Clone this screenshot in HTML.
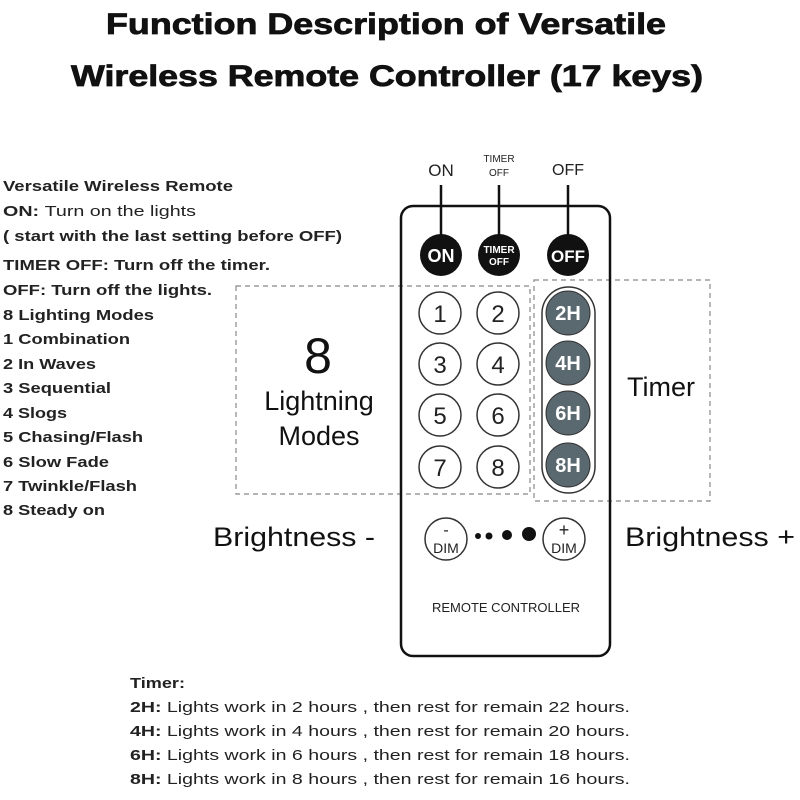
<!DOCTYPE html>
<html><head><meta charset="utf-8"><style>
html,body{margin:0;padding:0;background:#fff;}
svg{display:block;font-family:"Liberation Sans",Arial,sans-serif;}
</style></head><body>
<svg width="800" height="800" viewBox="0 0 800 800" xmlns="http://www.w3.org/2000/svg">
<rect width="800" height="800" fill="#fff"/>
<g font-weight="bold" font-size="30" fill="#111" stroke="#111" stroke-width="0.8" text-anchor="middle">
<text x="386" y="34" textLength="560" lengthAdjust="spacingAndGlyphs">Function Description of Versatile</text>
<text x="387" y="86" textLength="632" lengthAdjust="spacingAndGlyphs">Wireless Remote Controller (17 keys)</text>
</g>
<g font-size="15" font-weight="bold" fill="#222" lengthAdjust="spacingAndGlyphs">
<text x="3" y="191" textLength="230" lengthAdjust="spacingAndGlyphs">Versatile Wireless Remote</text>
<text x="3" y="216" textLength="193" lengthAdjust="spacingAndGlyphs">ON: <tspan font-weight="normal">Turn on the lights</tspan></text>
<text x="3" y="241" textLength="339" lengthAdjust="spacingAndGlyphs">( start with the last setting before OFF)</text>
<text x="3" y="270" textLength="267" lengthAdjust="spacingAndGlyphs">TIMER OFF: Turn off the timer.</text>
<text x="3" y="295" textLength="209" lengthAdjust="spacingAndGlyphs">OFF: Turn off the lights.</text>
<text x="3" y="320" textLength="151" lengthAdjust="spacingAndGlyphs">8 Lighting Modes</text>
<text x="3" y="344" textLength="127" lengthAdjust="spacingAndGlyphs">1 Combination</text>
<text x="3" y="369" textLength="93" lengthAdjust="spacingAndGlyphs">2 In Waves</text>
<text x="3" y="393" textLength="108" lengthAdjust="spacingAndGlyphs">3 Sequential</text>
<text x="3" y="418" textLength="64" lengthAdjust="spacingAndGlyphs">4 Slogs</text>
<text x="3" y="442" textLength="140" lengthAdjust="spacingAndGlyphs">5 Chasing/Flash</text>
<text x="3" y="467" textLength="106" lengthAdjust="spacingAndGlyphs">6 Slow Fade</text>
<text x="3" y="491" textLength="134" lengthAdjust="spacingAndGlyphs">7 Twinkle/Flash</text>
<text x="3" y="515" textLength="102" lengthAdjust="spacingAndGlyphs">8 Steady on</text>
</g>
<!-- dashed boxes -->
<rect x="236" y="286" width="294" height="208" fill="none" stroke="#888" stroke-width="1.2" stroke-dasharray="5,4"/>
<rect x="534" y="280" width="176" height="221" fill="none" stroke="#888" stroke-width="1.2" stroke-dasharray="5,4"/>
<g fill="#111" text-anchor="middle" font-size="27">
<text x="318" y="373" font-size="50">8</text>
<text x="319" y="410">Lightning</text>
<text x="319" y="445">Modes</text>
<text x="661" y="396">Timer</text>
<text x="294" y="546" textLength="162" lengthAdjust="spacingAndGlyphs">Brightness -</text>
<text x="710" y="546" textLength="170" lengthAdjust="spacingAndGlyphs">Brightness +</text>
</g>
<!-- remote -->
<rect x="401" y="206" width="209" height="450" rx="12" fill="none" stroke="#111" stroke-width="2.5"/>
<g stroke="#111" stroke-width="2.5">
<line x1="441" y1="185" x2="441" y2="240"/>
<line x1="499" y1="185" x2="499" y2="240"/>
<line x1="568" y1="185" x2="568" y2="240"/>
</g>
<g fill="#222" text-anchor="middle">
<text x="441" y="176" font-size="17">ON</text>
<text x="499" y="162" font-size="10">TIMER</text>
<text x="499" y="176" font-size="10">OFF</text>
<text x="568" y="175" font-size="16">OFF</text>
</g>
<g fill="#111"><circle cx="441" cy="255" r="21"/><circle cx="499" cy="255" r="21"/><circle cx="568" cy="255" r="21"/></g>
<g fill="#fff" font-weight="bold" text-anchor="middle">
<text x="441" y="262" font-size="18">ON</text>
<text x="499" y="253" font-size="10">TIMER</text>
<text x="499" y="265" font-size="10">OFF</text>
<text x="568" y="262" font-size="17">OFF</text>
</g>
<!-- number buttons -->
<g fill="#fff" stroke="#333" stroke-width="1.5">
<circle cx="440" cy="313" r="21"/><circle cx="498" cy="313" r="21"/>
<circle cx="440" cy="364" r="21"/><circle cx="498" cy="364" r="21"/>
<circle cx="440" cy="415" r="21"/><circle cx="498" cy="415" r="21"/>
<circle cx="440" cy="467" r="21"/><circle cx="498" cy="467" r="21"/>
</g>
<g fill="#222" font-size="24" text-anchor="middle">
<text x="440" y="322">1</text><text x="498" y="322">2</text>
<text x="440" y="373">3</text><text x="498" y="373">4</text>
<text x="440" y="424">5</text><text x="498" y="424">6</text>
<text x="440" y="476">7</text><text x="498" y="476">8</text>
</g>
<!-- timer pill -->
<rect x="542" y="287" width="53" height="206" rx="26.5" fill="#fff" stroke="#333" stroke-width="1.5"/>
<g fill="#5a6870" stroke="#333" stroke-width="1"><circle cx="568" cy="313" r="22"/><circle cx="568" cy="363" r="22"/><circle cx="568" cy="413" r="22"/><circle cx="568" cy="465" r="22"/></g>
<g fill="#fff" font-size="20" font-weight="bold" text-anchor="middle">
<text x="568" y="320">2H</text><text x="568" y="370">4H</text><text x="568" y="420">6H</text><text x="568" y="472">8H</text>
</g>
<!-- dim -->
<circle cx="446" cy="539" r="21" fill="#fff" stroke="#333" stroke-width="1.5"/>
<circle cx="564" cy="539" r="21" fill="#fff" stroke="#333" stroke-width="1.5"/>
<g fill="#222" text-anchor="middle" font-size="14">
<text x="446" y="553">DIM</text><text x="446" y="535" font-size="16">-</text>
<text x="564" y="553">DIM</text><text x="564" y="536" font-size="18">+</text>
</g>
<g fill="#111"><circle cx="478" cy="536" r="3"/><circle cx="489" cy="536" r="3.5"/><circle cx="507" cy="535" r="5"/><circle cx="529" cy="534" r="7"/></g>
<text x="506" y="612" font-size="13" fill="#222" text-anchor="middle">REMOTE CONTROLLER</text>
<!-- bottom -->
<g font-size="15" font-weight="bold" fill="#222">
<text x="130" y="688" textLength="55" lengthAdjust="spacingAndGlyphs">Timer:</text>
<text x="130" y="712" textLength="500" lengthAdjust="spacingAndGlyphs">2H: <tspan font-weight="normal">Lights work in 2 hours , then rest for remain 22 hours.</tspan></text>
<text x="130" y="736" textLength="500" lengthAdjust="spacingAndGlyphs">4H: <tspan font-weight="normal">Lights work in 4 hours , then rest for remain 20 hours.</tspan></text>
<text x="130" y="760" textLength="500" lengthAdjust="spacingAndGlyphs">6H: <tspan font-weight="normal">Lights work in 6 hours , then rest for remain 18 hours.</tspan></text>
<text x="130" y="784" textLength="500" lengthAdjust="spacingAndGlyphs">8H: <tspan font-weight="normal">Lights work in 8 hours , then rest for remain 16 hours.</tspan></text>
</g>
</svg>
</body></html>
